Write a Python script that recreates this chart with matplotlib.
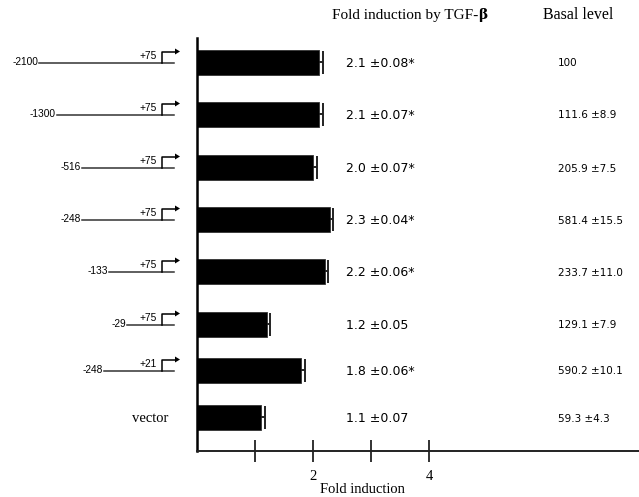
import matplotlib
matplotlib.use('Agg')
import matplotlib.pyplot as plt

# constructs, TGF-beta fold induction and basal luciferase level
promoter_start = ['-2100', '-1300', '-516', '-248', '-133', '-29', '-248', 'vector']
promoter_end = ['+75', '+75', '+75', '+75', '+75', '+75', '+21', None]
fold = [2.1, 2.1, 2.0, 2.3, 2.2, 1.2, 1.8, 1.1]
fold_err = [0.08, 0.07, 0.07, 0.04, 0.06, 0.05, 0.06, 0.07]
significant = [True, True, True, True, True, False, True, False]
basal = [100, 111.6, 205.9, 581.4, 233.7, 129.1, 590.2, 59.3]
basal_err = [None, 8.9, 7.5, 15.5, 11.0, 7.9, 10.1, 4.3]
xticks = [1, 2, 3, 4]
xticklabels = ['', '2', '', '4']

# layout (figure pixels, origin top left)
W, H = 639, 497
row_y = [62.5, 114.5, 167.5, 219.5, 271.5, 324.5, 370.5, 417.5]
line_left = [39, 57, 82, 82, 109, 127, 104]
line_right, tss_x, arrow_tip = 174, 162, 180
ax_left, ax_top, ax_bottom = 197, 38, 451
px_per_unit = 58.0
bar_h, cap_h = 25, 23

serif = 'Liberation Serif'
sans = 'Liberation Sans'

fig = plt.figure(figsize=(W / 100, H / 100), dpi=100)

# bar chart, y in pixel rows so it lines up with the schematic
ax = fig.add_axes([ax_left / W, (H - ax_bottom) / H, (W - ax_left) / W,
                   (ax_bottom - ax_top) / H])
ax.barh(row_y, fold, height=bar_h, color='black', edgecolor='#333333', linewidth=0.6)
# one-sided error bars: stub from the bar end plus a tall cap
err_end = [f + e for f, e in zip(fold, fold_err)]
ax.hlines(row_y, fold, err_end, color='#222222', lw=1.4)
ax.vlines(err_end, [y - cap_h / 2 for y in row_y], [y + cap_h / 2 for y in row_y],
          color='#222222', lw=1.4)
ax.set_xlim(0, (W - ax_left) / px_per_unit)
ax.set_ylim(ax_bottom, ax_top)
for s in ['top', 'right']:
    ax.spines[s].set_visible(False)
ax.spines['left'].set_linewidth(1.8)
ax.spines['bottom'].set_linewidth(1.4)
ax.spines['bottom'].set_color('#222222')
ax.set_yticks([])
ax.set_xticks(xticks)
ax.set_xticklabels(xticklabels, fontfamily=serif, fontsize=10.5)
ax.tick_params(axis='x', direction='inout', length=16.5, width=1.3, color='#222222', pad=5.5)
ax.set_xlabel('Fold induction', fontfamily=serif, fontsize=10.5)
ax.xaxis.set_label_coords((362 - ax_left) / (W - ax_left), -0.078)

# overlay in figure pixels for the promoter schematics and the columns of numbers
ov = fig.add_axes([0, 0, 1, 1])
ov.set_xlim(0, W)
ov.set_ylim(H, 0)
ov.axis('off')

for i, y in enumerate(row_y):
    if promoter_end[i] is None:
        ov.text(168, y + 1, promoter_start[i], fontfamily=serif, fontsize=10.5,
                ha='right', va='center')
    else:
        x0 = line_left[i]
        ov.plot([x0, line_right], [y, y], color='#333333', lw=1.1)
        ov.text(x0 - 1, y - 0.5, promoter_start[i], fontfamily=sans, fontsize=7.3,
                ha='right', va='center')
        ov.text(157, y - 6.5, promoter_end[i], fontfamily=sans, fontsize=7.3,
                ha='right', va='center')
        ov.plot([tss_x, tss_x, arrow_tip - 5], [y, y - 11, y - 11], color='black', lw=1.1)
        ov.fill([arrow_tip - 5, arrow_tip, arrow_tip - 5],
                [y - 14, y - 11, y - 8], color='black', lw=0)

    label = '{:.1f} ±{:.2f}'.format(fold[i], fold_err[i])
    if significant[i]:
        label += '*'
    ov.text(346, y + 1, label, fontfamily='DejaVu Sans', fontsize=9,
            ha='left', va='center')

    if basal_err[i] is None:
        btxt = '{:g}'.format(basal[i])
    else:
        btxt = '{:.1f} ±{:.1f}'.format(basal[i], basal_err[i])
    ov.text(558, y + 1, btxt, fontfamily='DejaVu Sans', fontsize=7.5,
            ha='left', va='center')

t1 = ov.text(332, 15, 'Fold induction by TGF-', fontfamily=serif, fontsize=11,
             ha='left', va='center')
ov.annotate('β', xy=(1, 0), xycoords=t1, ha='left', va='bottom',
            fontfamily='DejaVu Serif', fontsize=10, fontweight='bold')
ov.text(543, 15, 'Basal level', fontfamily=serif, fontsize=11.5, ha='left', va='center')

fig.savefig('out.png', dpi=100)
